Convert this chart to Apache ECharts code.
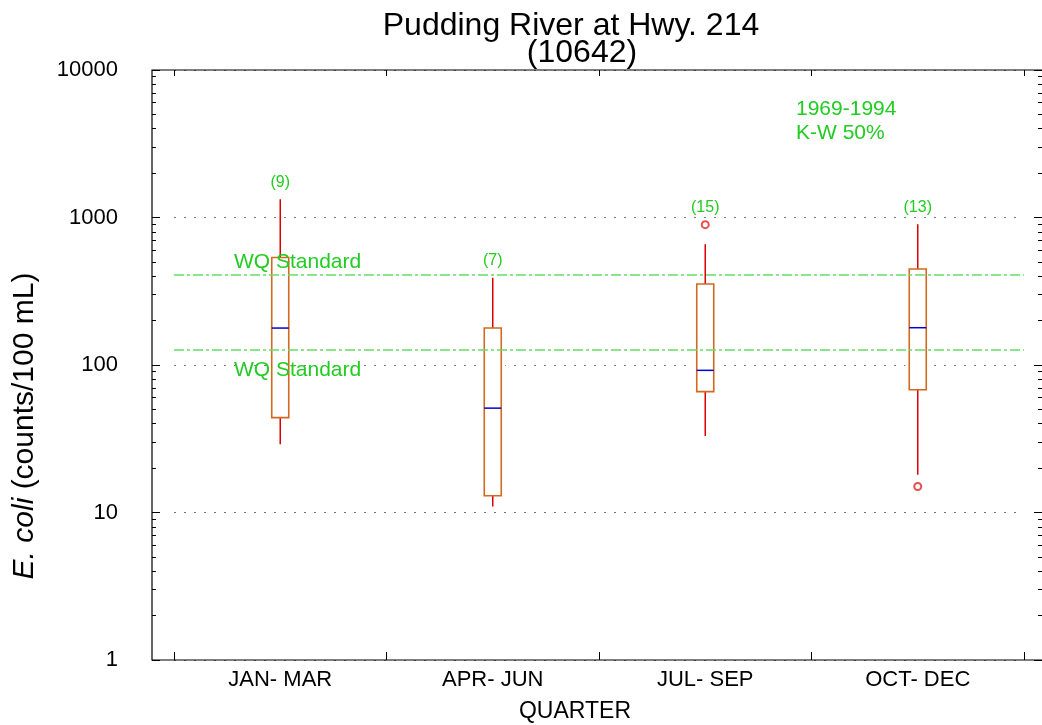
<!DOCTYPE html>
<html>
<head>
<meta charset="utf-8">
<script src="https://cdn.jsdelivr.net/npm/echarts@6/dist/echarts.min.js"></script>
<style>
  html, body { margin: 0; padding: 0; background: #fff; }
  #main { width: 1042px; height: 725px; }
</style>
</head>
<body>
<div id="main"></div>
<script>
// quarters and box statistics (E. coli, counts/100 mL)
var quarters = ['JAN- MAR', 'APR- JUN', 'JUL- SEP', 'OCT- DEC'];
var whiskerLow = [29, 11, 33, 18];
var q1 = [44, 13, 66, 68];
var median = [178, 51, 92, 179];
var q3 = [536, 178, 354, 448];
var whiskerHigh = [1330, 390, 658, 899];
var counts = [9, 7, 15, 13];
// outliers: [quarter index, value]
var outliers = [[2, 894], [3, 15]];
var wqStandards = [406, 126];
var minorTicks = [2, 3, 4, 5, 6, 7, 8, 9, 20, 30, 40, 50, 60, 70, 80, 90,
    200, 300, 400, 500, 600, 700, 800, 900, 2000, 3000, 4000, 5000, 6000, 7000, 8000, 9000];

var FONT = 'Liberation Sans, Arial, sans-serif';
var GREEN = '#22cc22';
var gridLeft = 174, gridRight = 18, gridTop = 70, gridBottom = 65;
var leftOffset = 22, rightOffset = 18;

// top point of each group, for the (n) labels
var topValue = whiskerHigh.slice();
outliers.forEach(function (o) {
    if (o[1] > topValue[o[0]]) topValue[o[0]] = o[1];
});

var boxData = quarters.map(function (q, i) {
    return [i, whiskerLow[i], q1[i], median[i], q3[i], whiskerHigh[i], topValue[i], counts[i]];
});

function renderBox(params, api) {
    var x = api.value(0);
    var pLow = api.coord([x, api.value(1)]);
    var pQ1 = api.coord([x, api.value(2)]);
    var pMed = api.coord([x, api.value(3)]);
    var pQ3 = api.coord([x, api.value(4)]);
    var pHigh = api.coord([x, api.value(5)]);
    var pTop = api.coord([x, api.value(6)]);
    var cx = pQ1[0];
    var hw = 8.5;
    return {
        type: 'group',
        children: [
            { type: 'rect', shape: { x: cx - hw - 4, y: pQ3[1], width: hw * 2 + 8, height: pQ1[1] - pQ3[1] },
              style: { fill: '#fff' } },
            { type: 'line', shape: { x1: cx, y1: pHigh[1], x2: cx, y2: pQ3[1] },
              style: { stroke: '#dd0000', lineWidth: 1.5 } },
            { type: 'line', shape: { x1: cx, y1: pQ1[1], x2: cx, y2: pLow[1] },
              style: { stroke: '#dd0000', lineWidth: 1.5 } },
            { type: 'rect', shape: { x: cx - hw, y: pQ3[1], width: hw * 2, height: pQ1[1] - pQ3[1] },
              style: { fill: '#fff', stroke: '#d2691e', lineWidth: 1.6 } },
            { type: 'line', shape: { x1: cx - hw, y1: pMed[1], x2: cx + hw, y2: pMed[1] },
              style: { stroke: '#0000dd', lineWidth: 1.5 } },
            { type: 'text', x: cx, y: pTop[1] - 9,
              style: { text: '(' + api.value(7) + ')', fill: GREEN, font: '16px ' + FONT,
                       align: 'center', verticalAlign: 'bottom' } }
        ]
    };
}

var myChart = echarts.init(document.getElementById('main'));

var logAxisBase = {
    type: 'log', logBase: 10, min: 1, max: 10000,
    axisLine: { show: false }
};

var option = {
    animation: false,
    backgroundColor: '#fff',
    title: [
        { text: 'Pudding River at Hwy. 214', left: 566, top: 5, textAlign: 'center',
          textStyle: { fontFamily: FONT, fontSize: 32, fontWeight: 'normal', color: '#000' } },
        { text: '(10642)', left: 577, top: 32, textAlign: 'center',
          textStyle: { fontFamily: FONT, fontSize: 32, fontWeight: 'normal', color: '#000' } }
    ],
    grid: { left: gridLeft, right: gridRight, top: gridTop, bottom: gridBottom, outerBoundsMode: 'none' },
    xAxis: [
        {
            type: 'category', data: quarters, position: 'bottom', boundaryGap: true,
            axisLine: { show: false },
            axisTick: { show: true, inside: true, length: 8, interval: 0, lineStyle: { color: '#000' } },
            axisLabel: { interval: 0, margin: 9, fontFamily: FONT, fontSize: 22, color: '#000' },
            name: 'QUARTER', nameLocation: 'middle', nameGap: 40,
            nameTextStyle: { fontFamily: FONT, fontSize: 23, color: '#000', padding: [0, 48, 0, 0] }
        },
        {
            type: 'category', data: quarters, position: 'top', boundaryGap: true,
            axisLine: { show: false },
            axisTick: { show: true, inside: true, length: 6, interval: 0, lineStyle: { color: '#000' } },
            axisLabel: { show: false }
        }
    ],
    yAxis: [
        Object.assign({}, logAxisBase, {
            position: 'left', offset: leftOffset,
            axisTick: { show: true, inside: true, length: 8, lineStyle: { color: '#000' } },
            axisLabel: { margin: 34, fontFamily: FONT, fontSize: 22, color: '#000',
                         formatter: function (v) { return String(v); } },
            splitLine: { show: true, lineStyle: { color: '#777', type: [2, 8], width: 1 } },
            name: '{i|E. coli} (counts/100 mL)', nameLocation: 'middle', nameGap: 112,
            nameTextStyle: { fontFamily: FONT, fontSize: 30, color: '#000', padding: [0, 122, 0, 0],
                             rich: { i: { fontFamily: FONT, fontSize: 30, fontStyle: 'italic', color: '#000' } } }
        }),
        Object.assign({}, logAxisBase, {
            position: 'left', offset: leftOffset,
            axisTick: { show: true, inside: true, length: 4, customValues: minorTicks, lineStyle: { color: '#000' } },
            axisLabel: { show: false }, splitLine: { show: false }
        }),
        Object.assign({}, logAxisBase, {
            position: 'right', offset: rightOffset,
            axisTick: { show: true, inside: true, length: 8, lineStyle: { color: '#000' } },
            axisLabel: { show: false }, splitLine: { show: false }
        }),
        Object.assign({}, logAxisBase, {
            position: 'right', offset: rightOffset,
            axisTick: { show: true, inside: true, length: 4, customValues: minorTicks, lineStyle: { color: '#000' } },
            axisLabel: { show: false }, splitLine: { show: false }
        })
    ],
    graphic: [
        { type: 'rect', z: 100, silent: true,
          shape: { x: gridLeft - leftOffset, y: gridTop, width: 1042 - gridLeft + leftOffset + 2, height: 725 - gridTop - gridBottom },
          style: { fill: null, stroke: '#000', lineWidth: 1.2 } },
        { type: 'text', left: 796, top: 97, z: 100,
          style: { text: '1969-1994\nK-W 50%', fill: GREEN, font: '21px ' + FONT, lineHeight: 24 } }
    ],
    series: [
        {
            type: 'scatter', xAxisIndex: 0, yAxisIndex: 0, z: 2,
            data: outliers,
            symbol: 'emptyCircle', symbolSize: 7,
            itemStyle: { color: '#dd2222', borderWidth: 1 },
            markLine: {
                silent: true, symbol: 'none',
                lineStyle: { color: '#66dd66', type: [10, 3, 3, 3], width: 1.5 },
                label: { show: false },
                data: wqStandards.map(function (v) { return { yAxis: v }; })
            }
        },
        {
            type: 'custom', xAxisIndex: 0, yAxisIndex: 0, z: 3,
            renderItem: renderBox,
            encode: { x: 0, y: [1, 5] },
            data: boxData
        },
        {
            // labels of the standard lines, drawn above the boxes
            type: 'scatter', xAxisIndex: 0, yAxisIndex: 0, z: 6,
            data: [], symbolSize: 0,
            markLine: {
                silent: true, symbol: 'none',
                lineStyle: { color: 'rgba(0,0,0,0)', width: 0 },
                data: wqStandards.map(function (v, i) {
                    return {
                        yAxis: v,
                        label: {
                            show: true, formatter: 'WQ Standard',
                            position: i === 0 ? 'insideStartTop' : 'insideStartBottom',
                            distance: i === 0 ? [60, 3] : [60, 10],
                            fontFamily: FONT, fontSize: 21, color: GREEN
                        }
                    };
                })
            }
        }
    ]
};

myChart.setOption(option);
</script>
</body>
</html>
